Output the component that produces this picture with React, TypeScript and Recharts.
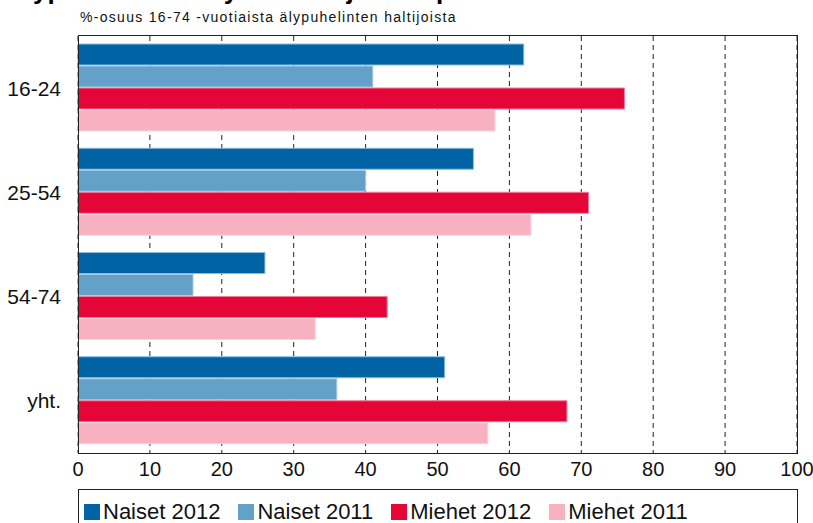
import { BarChart, Bar, XAxis, YAxis, CartesianGrid } from 'recharts'

const ageGroups = ['16-24', '25-54', '54-74', 'yht.']
const naiset2012 = [62, 55, 26, 51]
const naiset2011 = [41, 40, 16, 36]
const miehet2012 = [76, 71, 43, 68]
const miehet2011 = [58, 63, 33, 57]
const xTicks = [0, 10, 20, 30, 40, 50, 60, 70, 80, 90, 100]

const SERIES = [
  { key: 'n2012', name: 'Naiset 2012', fill: '#0064a4', stroke: '#8dbbe0' },
  { key: 'n2011', name: 'Naiset 2011', fill: '#64a1c8', stroke: '#a9cce4' },
  { key: 'm2012', name: 'Miehet 2012', fill: '#e60537', stroke: '#f27d98' },
  { key: 'm2011', name: 'Miehet 2011', fill: '#f7b1c0', stroke: '#fbd3dc' },
]

const data = ageGroups.map((group, i) => ({
  group,
  n2012: naiset2012[i],
  n2011: naiset2011[i],
  m2012: miehet2012[i],
  m2011: miehet2011[i],
}))

const FONT = '"Liberation Sans", Arial, sans-serif'

export default function App() {
  return (
    <div style={{ position: 'absolute', left: 0, top: 0, width: 813, height: 523, background: '#fff', overflow: 'hidden', fontFamily: FONT }}>
      {/* title, cut off at the top edge like the source image */}
      <div style={{ position: 'absolute', left: 7, top: -23, fontSize: 26, lineHeight: '26px', fontWeight: 'bold', color: '#000', whiteSpace: 'nowrap' }}>
        Älypuhelimet ikäryhmittäin ja sukupuolen mukaan
      </div>
      <div style={{ position: 'absolute', left: 80, top: 9, fontSize: 14, letterSpacing: 1.3, color: '#111', whiteSpace: 'nowrap' }}>
        %-osuus 16-74 -vuotiaista älypuhelinten haltijoista
      </div>

      <div style={{ position: 'absolute', left: 0, top: 0 }}>
        <BarChart
          width={813}
          height={523}
          data={data}
          layout="vertical"
          margin={{ top: 36, right: 16, bottom: 40, left: 0 }}
          barCategoryGap={8}
          barGap={1}
        >
          <CartesianGrid horizontal={false} vertical stroke="#222" strokeDasharray="5 4" />
          <XAxis
            type="number"
            domain={[0, 100]}
            ticks={xTicks}
            interval={0}
            axisLine={false}
            tickLine={false}
            tickSize={0}
            tickMargin={9}
            height={30}
            tick={{ fill: '#111', fontSize: 20, fontFamily: FONT }}
          />
          <YAxis
            type="category"
            dataKey="group"
            width={78}
            axisLine={false}
            tickLine={false}
            tickSize={0}
            tickMargin={17}
            tick={{ fill: '#111', fontSize: 21, fontFamily: FONT }}
          />
          {SERIES.map((s) => (
            <Bar key={s.key} dataKey={s.key} name={s.name} fill={s.fill} stroke={s.stroke} strokeWidth={1} isAnimationActive={false} />
          ))}
        </BarChart>
      </div>

      {/* plot frame */}
      <div style={{ position: 'absolute', left: 78, top: 35, width: 720, height: 419, border: '1px solid #222', boxSizing: 'border-box', pointerEvents: 'none' }} />

      {/* legend */}
      <div style={{ position: 'absolute', left: 78, top: 489, width: 720, height: 44, border: '1px solid #222', boxSizing: 'border-box', display: 'flex', alignItems: 'flex-start', paddingLeft: 5, paddingTop: 9, fontSize: 22, lineHeight: '25px', color: '#111' }}>
        {SERIES.map((s) => (
          <div key={s.key} style={{ display: 'flex', alignItems: 'center', marginRight: 18 }}>
            <span style={{ display: 'inline-block', width: 16, height: 16, background: s.fill, marginRight: 3 }} />
            <span>{s.name}</span>
          </div>
        ))}
      </div>
    </div>
  )
}
